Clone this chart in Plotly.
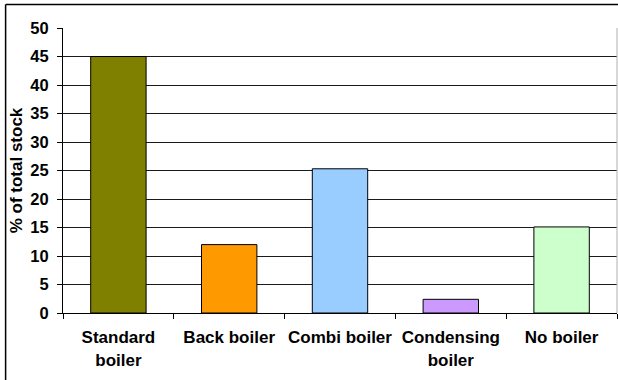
import plotly.graph_objects as go

# Heating system share of housing stock
categories = ["Standard<br>boiler", "Back boiler", "Combi boiler", "Condensing<br>boiler", "No boiler"]
share_pct = [45.0, 12.0, 25.3, 2.4, 15.1]
bar_colors = ["#808000", "#FF9900", "#99CCFF", "#CC99FF", "#CCFFCC"]
y_ticks = [0, 5, 10, 15, 20, 25, 30, 35, 40, 45, 50]

font_family = "Liberation Sans, Arial, sans-serif"

fig = go.Figure(
    go.Bar(
        x=categories,
        y=share_pct,
        marker=dict(color=bar_colors, line=dict(color="#000000", width=1)),
        width=0.5,
        hoverinfo="skip",
    )
)

fig.update_layout(
    width=618,
    height=380,
    margin=dict(l=63, r=1, t=28, b=67),
    paper_bgcolor="#FFFFFF",
    plot_bgcolor="#FFFFFF",
    showlegend=False,
    font=dict(family=font_family, color="#000000"),
)

fig.update_xaxes(
    automargin=False,
    tickangle=0,
    showline=True,
    linecolor="#000000",
    linewidth=1,
    ticks="outside",
    ticklen=5,
    tickcolor="#000000",
    tickson="boundaries",
    ticklabelstandoff=9,
    tickfont=dict(family=font_family, size=17, color="#000000", weight="bold"),
    showgrid=False,
)

fig.update_yaxes(
    automargin=False,
    range=[0, 50],
    tickvals=y_ticks,
    showline=True,
    linecolor="#000000",
    linewidth=1,
    ticks="outside",
    ticklen=5,
    tickcolor="#000000",
    ticklabelstandoff=5,
    tickfont=dict(family=font_family, size=16.5, color="#000000", weight="bold"),
    showgrid=True,
    gridcolor="#1a1a1a",
    gridwidth=1,
    zeroline=False,
    title=dict(
        text="% of total stock",
        font=dict(family=font_family, size=17, color="#000000", weight="bold"),
        standoff=3,
    ),
)

# right edge of the plot area
fig.add_shape(
    type="line", xref="paper", yref="paper",
    x0=1, x1=1, y0=0, y1=1,
    line=dict(color="#B0B0B0", width=1),
)

# chart frame: top and left edges (the others fall outside the canvas)
frame_left, frame_top = -0.1036, 1.0825
fig.add_shape(
    type="line", xref="paper", yref="paper",
    x0=frame_left, x1=1.01, y0=frame_top, y1=frame_top,
    line=dict(color="#000000", width=1.5),
)
fig.add_shape(
    type="line", xref="paper", yref="paper",
    x0=frame_left, x1=frame_left, y0=-0.3, y1=frame_top,
    line=dict(color="#000000", width=1.5),
)

fig.write_html("out.html")
